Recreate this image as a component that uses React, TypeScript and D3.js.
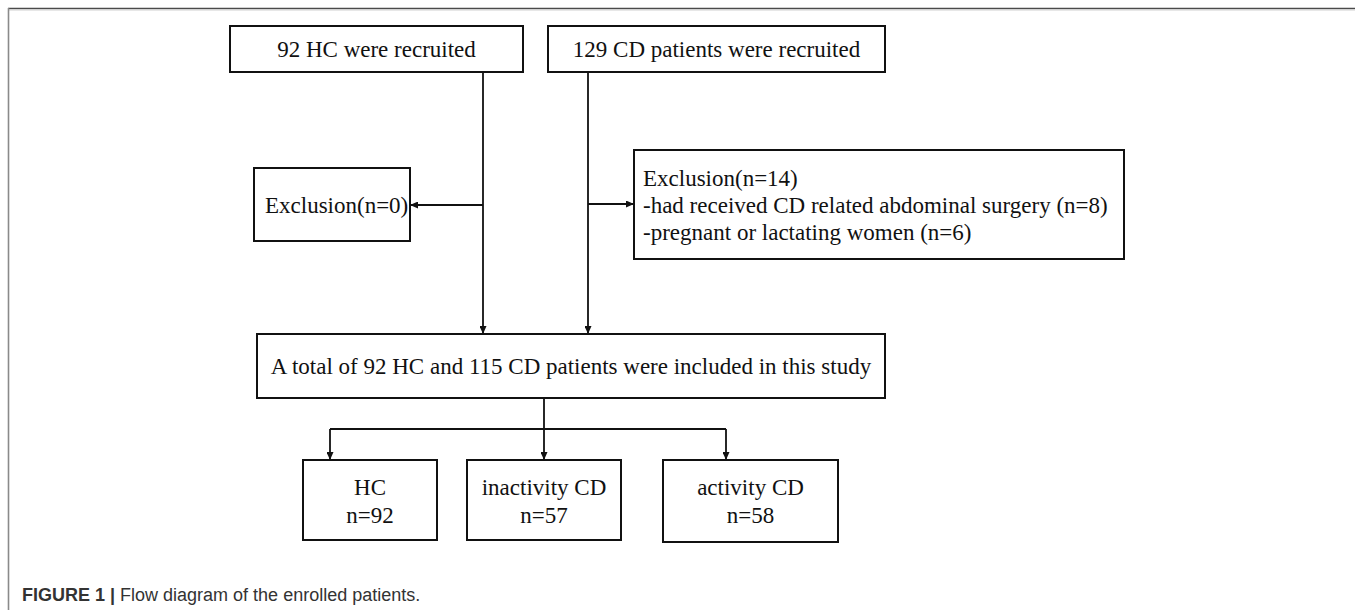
import React, { useRef, useEffect } from 'react';
import * as d3 from 'd3';

// texts of the flow diagram
const recruitLabels = ['92 HC were recruited', '129 CD patients were recruited'];
const exclusionHC = ['Exclusion(n=0)'];
const exclusionCD = [
  'Exclusion(n=14)',
  '-had received CD related abdominal surgery (n=8)',
  '-pregnant or lactating women (n=6)',
];
const totalLabel = 'A total of 92 HC and 115 CD patients were included in this study';
const groupNames = ['HC', 'inactivity CD', 'activity CD'];
const groupCounts = [92, 57, 58];
const captionBold = 'FIGURE 1 |';
const captionText = ' Flow diagram of the enrolled patients.';

interface Box { x0: number; x1: number; y0: number; y1: number; }

// layout (page pixels)
const recruitBoxes: Box[] = [
  { x0: 230, x1: 523, y0: 26, y1: 72 },
  { x0: 548, x1: 885, y0: 26, y1: 72 },
];
const excHCBox: Box = { x0: 254, x1: 410, y0: 168, y1: 241 };
const excCDBox: Box = { x0: 634, x1: 1124, y0: 150, y1: 259 };
const totalBox: Box = { x0: 257, x1: 885, y0: 334, y1: 398 };
const groupBoxes: Box[] = [
  { x0: 303, x1: 437, y0: 460, y1: 540 },
  { x0: 467, x1: 621, y0: 460, y1: 540 },
  { x0: 663, x1: 838, y0: 460, y1: 542 },
];
const stemX = [483, 588];
const branchX = [330, 544, 726];
const branchY = 429;

export default function App() {
  const svgRef = useRef<SVGSVGElement>(null);

  useEffect(() => {
    const width = 1355;
    const height = 610;
    const svg = d3.select(svgRef.current);
    svg.selectAll('*').remove();
    svg.attr('width', width).attr('height', height);

    const ink = '#111';
    const serif = '"Liberation Serif", "Times New Roman", serif';

    // arrow head
    svg.append('defs').append('marker')
      .attr('id', 'arr')
      .attr('markerUnits', 'userSpaceOnUse')
      .attr('markerWidth', 8)
      .attr('markerHeight', 7)
      .attr('refX', 8)
      .attr('refY', 3.5)
      .attr('orient', 'auto')
      .append('path')
      .attr('d', 'M0,0 L8,3.5 L0,7 Z')
      .attr('fill', ink);

    // figure frame (top and left rule)
    svg.append('line').attr('x1', 8).attr('x2', width).attr('y1', 8.5).attr('y2', 8.5)
      .attr('stroke', '#4a4a4a').attr('stroke-width', 1.5);
    svg.append('line').attr('x1', 8).attr('x2', width).attr('y1', 10).attr('y2', 10)
      .attr('stroke', '#d0d0d0').attr('stroke-width', 1);
    svg.append('line').attr('x1', 8.5).attr('x2', 8.5).attr('y1', 8).attr('y2', height)
      .attr('stroke', '#8a8a8a').attr('stroke-width', 1.6);

    const line = d3.line<[number, number]>();
    const drawLink = (pts: [number, number][], arrow = true) => {
      svg.append('path')
        .attr('d', line(pts))
        .attr('fill', 'none')
        .attr('stroke', ink)
        .attr('stroke-width', 1.8)
        .attr('marker-end', arrow ? 'url(#arr)' : null);
    };

    const drawBox = (b: Box) => {
      svg.append('rect')
        .attr('x', b.x0).attr('y', b.y0)
        .attr('width', b.x1 - b.x0).attr('height', b.y1 - b.y0)
        .attr('fill', '#fff')
        .attr('stroke', ink)
        .attr('stroke-width', 2);
    };

    const drawText = (lines: string[], x: number, y0: number, anchor: string, step = 27) => {
      const t = svg.append('text')
        .attr('font-family', serif)
        .attr('font-size', 23)
        .attr('fill', ink)
        .attr('text-anchor', anchor);
      lines.forEach((s, i) => {
        t.append('tspan').attr('x', x).attr('y', y0 + i * step).text(s);
      });
    };

    // connectors
    const linkY = [205, 204];
    stemX.forEach((x, i) => {
      drawLink([[x, recruitBoxes[i].y1], [x, totalBox.y0]]);
    });
    drawLink([[stemX[0], linkY[0]], [excHCBox.x1, linkY[0]]]);
    drawLink([[stemX[1], linkY[1]], [excCDBox.x0, linkY[1]]]);
    drawLink([[branchX[1], totalBox.y1], [branchX[1], branchY]], false);
    drawLink([[branchX[0], branchY], [branchX[2], branchY]], false);
    branchX.forEach((x, i) => {
      drawLink([[x, branchY], [x, groupBoxes[i].y0]]);
    });

    // boxes and labels
    recruitLabels.forEach((s, i) => {
      const b = recruitBoxes[i];
      drawBox(b);
      drawText([s], (b.x0 + b.x1) / 2, (b.y0 + b.y1) / 2 + 8, 'middle');
    });

    drawBox(excHCBox);
    drawText(exclusionHC, excHCBox.x0 + 11, (excHCBox.y0 + excHCBox.y1) / 2 + 8.5, 'start');

    drawBox(excCDBox);
    drawText(exclusionCD, excCDBox.x0 + 9, excCDBox.y0 + 36, 'start');

    drawBox(totalBox);
    drawText([totalLabel], (totalBox.x0 + totalBox.x1) / 2, (totalBox.y0 + totalBox.y1) / 2 + 8, 'middle');

    groupNames.forEach((name, i) => {
      const b = groupBoxes[i];
      drawBox(b);
      drawText([name, `n=${groupCounts[i]}`], (b.x0 + b.x1) / 2, 495, 'middle', 28);
    });

    // caption
    const cap = svg.append('text')
      .attr('x', 22)
      .attr('y', 601)
      .attr('font-family', '"Liberation Sans", Arial, sans-serif')
      .attr('font-size', 18)
      .attr('fill', '#333');
    cap.append('tspan').attr('font-weight', 'bold').text(captionBold);
    cap.append('tspan').style('white-space', 'pre').text(captionText);
  }, []);

  return (
    <div style={{ position: 'absolute', left: 0, top: 0, background: '#fff' }}>
      <svg ref={svgRef} style={{ display: 'block' }}></svg>
    </div>
  );
}
